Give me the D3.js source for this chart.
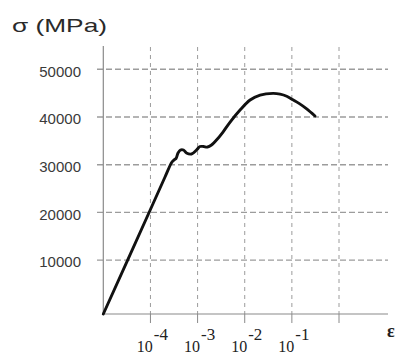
<!DOCTYPE html>
<html>
<head>
<meta charset="utf-8">
<script src="https://cdn.jsdelivr.net/npm/d3@7"></script>
<style>
  html, body { margin: 0; padding: 0; background: #fff; }
  svg { display: block; }
</style>
</head>
<body>
<svg id="chart" width="398" height="354"></svg>
<script>
// strain as powers of ten, stress in MPa
const strainExp = [-5, -4.024, -3.691, -3.543, -3.49, -3.458, -3.415, -3.362, -3.299, -3.235,
  -3.129, -3.023, -2.949, -2.874, -2.79, -2.705, -2.599, -2.461, -2.31, -2.099,
  -1.886, -1.674, -1.399, -1.25, -1.109, -0.976, -0.84, -0.685, -0.509];
const stress = [-1300, 20080, 27420, 30560, 31080, 31290, 32450, 33080, 33080, 32450,
  32240, 33080, 33810, 33810, 33700, 34120, 35170, 36850, 38940, 41460,
  43560, 44600, 44960, 44800, 44350, 43600, 42800, 41700, 40200];

const yTicks = [10000, 20000, 30000, 40000, 50000];
const xTickExp = [-4, -3, -2, -1, 0];
const xTickLabels = ['-4', '-3', '-2', '-1', ''];

const svg = d3.select('#chart');

const x = d3.scaleLog().domain([1e-5, 1]).range([103.3, 339]);
const y = d3.scaleLinear().domain([-1300, 50000]).range([314, 69.3]);

const x0 = 103.3, xEnd = 388, yBase = 314, yTop = 46;

// horizontal grid
svg.append('g')
  .selectAll('line')
  .data(yTicks)
  .join('line')
  .attr('x1', 97).attr('x2', xEnd)
  .attr('y1', d => y(d)).attr('y2', d => y(d))
  .attr('stroke', '#9c9c9c')
  .attr('stroke-width', 1.4)
  .attr('stroke-dasharray', '6,3');

// vertical grid + ticks below axis
const vg = svg.append('g');
vg.selectAll('line.grid')
  .data(xTickExp)
  .join('line')
  .attr('class', 'grid')
  .attr('x1', d => x(10 ** d)).attr('x2', d => x(10 ** d))
  .attr('y1', 47).attr('y2', yBase)
  .attr('stroke', '#9c9c9c')
  .attr('stroke-width', 1)
  .attr('stroke-dasharray', '4,4');
vg.selectAll('line.tick')
  .data(xTickExp)
  .join('line')
  .attr('class', 'tick')
  .attr('x1', d => x(10 ** d)).attr('x2', d => x(10 ** d))
  .attr('y1', yBase).attr('y2', yBase + 9)
  .attr('stroke', '#8a8a8a')
  .attr('stroke-width', 1);

// axes
svg.append('line')
  .attr('x1', x0).attr('x2', x0).attr('y1', yTop).attr('y2', yBase)
  .attr('stroke', '#8a8a8a').attr('stroke-width', 1.2);
svg.append('line')
  .attr('x1', x0).attr('x2', xEnd).attr('y1', yBase).attr('y2', yBase)
  .attr('stroke', '#8a8a8a').attr('stroke-width', 1.2);

// y labels
svg.append('g')
  .selectAll('text')
  .data(yTicks)
  .join('text')
  .attr('x', 81)
  .attr('y', d => y(d) + 2)
  .attr('dy', '0.35em')
  .attr('text-anchor', 'end')
  .attr('font-family', 'Liberation Sans, Arial, sans-serif')
  .attr('font-size', 15)
  .attr('fill', '#3a3a3a')
  .text(d => d);

// x labels 10^n
const xl = svg.append('g')
  .selectAll('text')
  .data(xTickExp.filter((d, i) => xTickLabels[i] !== ''))
  .join('text')
  .attr('x', d => x(10 ** d) + 2)
  .attr('y', 352)
  .attr('text-anchor', 'middle')
  .attr('font-family', 'Liberation Serif, Times New Roman, serif')
  .attr('font-size', 16)
  .attr('fill', '#222');
xl.append('tspan').text('10');
xl.append('tspan')
  .attr('dy', -12)
  .attr('dx', 1)
  .attr('font-size', 17)
  .text((d, i) => xTickLabels[i]);

// curve
const pts = strainExp.map((e, i) => [e, stress[i]]);
const line = d3.line()
  .x(d => x(10 ** d[0]))
  .y(d => y(d[1]))
  .curve(d3.curveCatmullRom.alpha(0.5));
svg.append('path')
  .datum(pts)
  .attr('d', line)
  .attr('fill', 'none')
  .attr('stroke', '#111')
  .attr('stroke-width', 2.9)
  .attr('stroke-linecap', 'round')
  .attr('stroke-linejoin', 'round');

// titles
svg.append('text')
  .attr('x', 12)
  .attr('y', 31.5)
  .attr('font-family', 'Liberation Sans, Arial, sans-serif')
  .attr('font-size', 19)
  .attr('fill', '#2a2a2a')
  .attr('textLength', 95)
  .attr('lengthAdjust', 'spacingAndGlyphs')
  .text('σ (MPa)');

svg.append('text')
  .attr('x', 387)
  .attr('y', 337)
  .attr('font-family', 'Liberation Serif, Times New Roman, serif')
  .attr('font-size', 18)
  .attr('font-weight', 'bold')
  .attr('fill', '#222')
  .text('ε');
</script>
</body>
</html>
